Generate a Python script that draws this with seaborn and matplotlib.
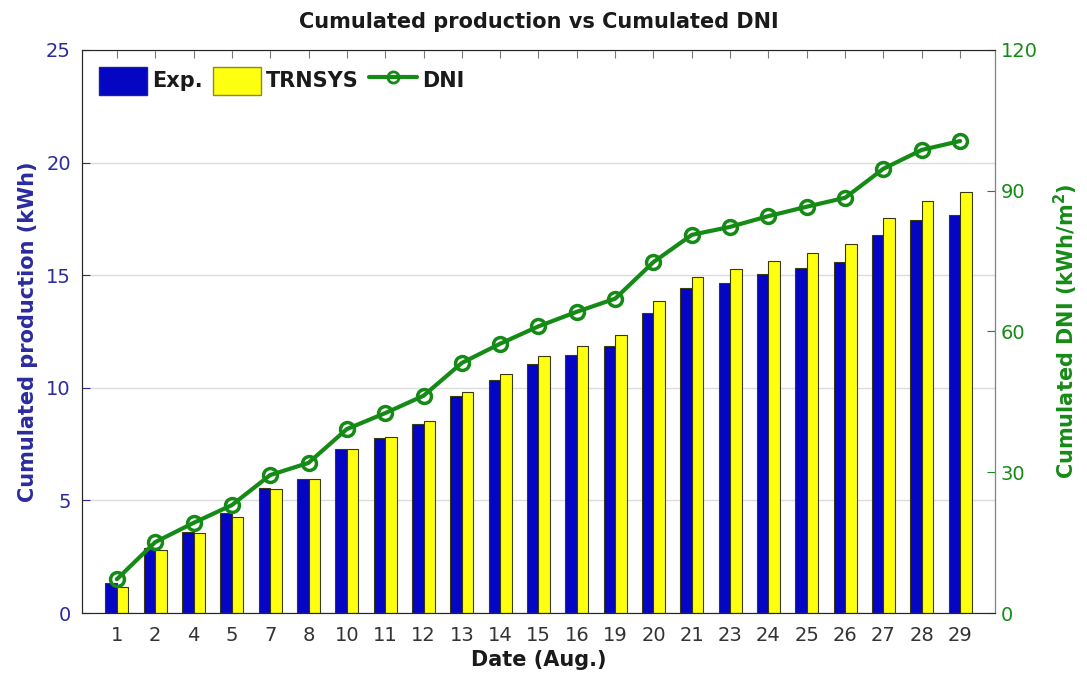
import numpy as np
import pandas as pd
import matplotlib
matplotlib.use("Agg")
import matplotlib.pyplot as plt
import seaborn as sns
from matplotlib.patches import Patch
from matplotlib.lines import Line2D

# data
dates = ["1", "2", "4", "5", "7", "8", "10", "11", "12", "13", "14", "15",
         "16", "19", "20", "21", "23", "24", "25", "26", "27", "28", "29"]
exp_kwh = [1.33, 2.9, 3.6, 4.44, 5.55, 5.95, 7.28, 7.77, 8.4, 9.64, 10.35, 11.05,
           11.46, 11.86, 13.3, 14.43, 14.65, 15.05, 15.3, 15.58, 16.78, 17.45, 17.67]
trnsys_kwh = [1.15, 2.8, 3.55, 4.26, 5.5, 5.95, 7.3, 7.82, 8.53, 9.8, 10.6, 11.41,
              11.86, 12.34, 13.85, 14.92, 15.27, 15.63, 16.0, 16.38, 17.53, 18.3, 18.7]
dni = [7.2, 15.1, 19.2, 23.0, 29.4, 32.0, 39.2, 42.6, 46.3, 53.3, 57.4, 61.1,
       64.2, 67.0, 74.8, 80.6, 82.3, 84.6, 86.6, 88.5, 94.7, 98.7, 100.6]

blue = "#0505c4"
yellow = "#ffff10"
green = "#168a16"
left_col = "#2b2b9e"

sns.set_style("white")
plt.rcParams["font.family"] = ["DejaVu Sans"]

df = pd.DataFrame({
    "date": dates * 2,
    "value": exp_kwh + trnsys_kwh,
    "series": ["Exp."] * len(dates) + ["TRNSYS"] * len(dates),
})

fig = plt.figure(figsize=(10.87, 6.79), dpi=100)
ax = fig.add_axes([0.0754, 0.0972, 0.84, 0.8292])

# grouped bars
sns.barplot(data=df, x="date", y="value", hue="series", order=dates,
            palette=[blue, yellow], saturation=1, width=0.6,
            edgecolor="#3a3a10", linewidth=0.8, ax=ax, legend=False)
ax.set_xlim(-0.91, len(dates) - 1 + 0.91)
ax.set_ylim(0, 25)
ax.set_yticks([0, 5, 10, 15, 20, 25])
ax.yaxis.grid(True, color="#dcdcdc", linewidth=1)
ax.set_axisbelow(True)
ax.tick_params(axis="y", direction="in", right=True, colors=left_col,
               labelsize=14, length=6, pad=8)
ax.tick_params(axis="x", direction="in", top=True, labelsize=14, length=6,
               labelcolor="#333333", color="#777777", pad=9)
ax.set_xlabel("Date (Aug.)", fontsize=15, fontweight="bold", labelpad=4,
              color="#1a1a1a")
ax.set_ylabel("Cumulated production (kWh)", fontsize=15, fontweight="bold",
              color=left_col, labelpad=6)
for s in ["top", "bottom"]:
    ax.spines[s].set_color("#777777")
ax.spines["left"].set_color(left_col)

# DNI line on the right axis
ax2 = ax.twinx()
x = np.arange(len(dates))
sns.lineplot(x=x, y=dni, ax=ax2, color=green, linewidth=3, marker="o",
             markersize=10, markerfacecolor="none", markeredgecolor=green,
             markeredgewidth=2.5)
ax2.set_ylim(0, 120)
ax2.set_yticks([0, 30, 60, 90, 120])
ax2.tick_params(axis="y", direction="in", colors=green, labelsize=14,
                length=6, pad=4)
ax2.set_ylabel("Cumulated DNI (kWh/m$^\\mathbf{2}$)", fontsize=15,
               fontweight="bold", color=green, labelpad=10)
ax2.spines["right"].set_color("#7a8a7a")
ax2.grid(False)

ax.set_title("Cumulated production vs Cumulated DNI", fontsize=15,
             fontweight="bold", pad=16, color="#1a1a1a")

handles = [
    Patch(facecolor=blue, edgecolor="#20208a"),
    Patch(facecolor=yellow, edgecolor="#8a8a20"),
    Line2D([], [], color=green, linewidth=3, marker="o", markersize=8,
           markerfacecolor="none", markeredgewidth=2),
]
leg = ax.legend(handles, ["Exp.", "TRNSYS", "DNI"], loc="upper left", ncol=3,
                frameon=False, prop={"weight": "bold", "size": 15},
                handlelength=2.3, handleheight=1.7, columnspacing=0.5,
                handletextpad=0.25, borderaxespad=0.4)
for t in leg.get_texts():
    t.set_color("#1a1a1a")

fig.savefig("out.png", dpi=100)
